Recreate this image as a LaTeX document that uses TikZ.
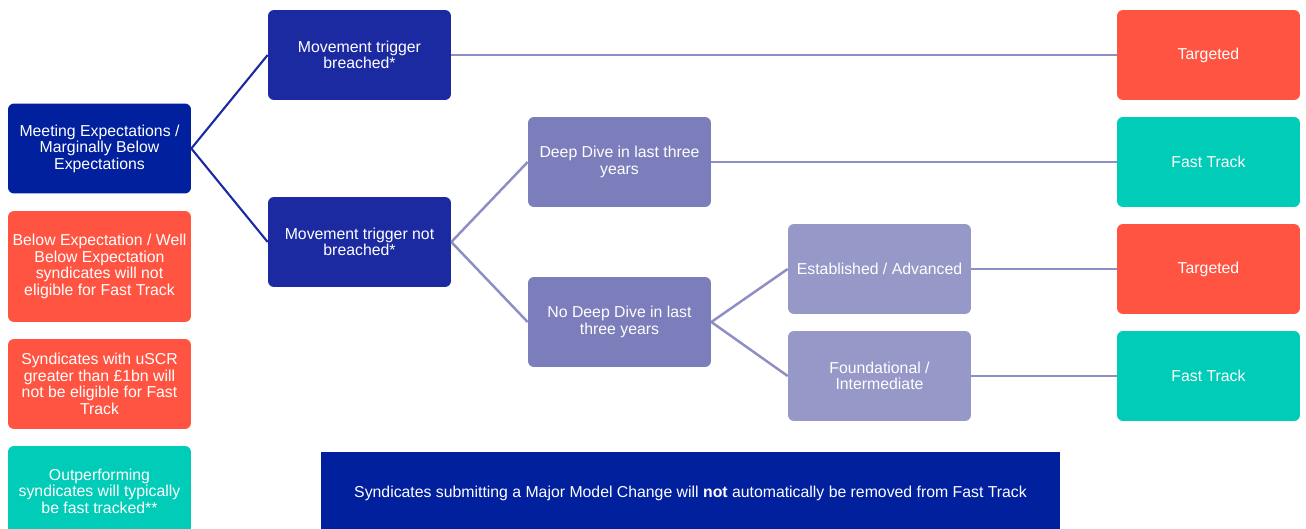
\documentclass[tikz,border=0pt]{standalone}
\usepackage{fontspec}
\setmainfont{Liberation Sans}
\definecolor{navyA}{RGB}{0,32,158}
\definecolor{navyB}{RGB}{27,42,161}
\definecolor{redbox}{RGB}{255,84,66}
\definecolor{tealbox}{RGB}{0,204,183}
\definecolor{lilacA}{RGB}{123,126,186}
\definecolor{lilacB}{RGB}{150,152,199}
\definecolor{lilacline}{RGB}{140,142,196}

\begin{document}
\begin{tikzpicture}[x=0.02cm, y=-0.02cm,
  every node/.style={rounded corners=0.12cm, text=white, align=center,
    minimum width=3.66cm, minimum height=1.8cm, inner sep=2pt,
    font=\fontsize{9}{9.4}\selectfont},
  navyAbox/.style={fill=navyA},
  navyBbox/.style={fill=navyB},
  redbox/.style={fill=redbox},
  tealbox/.style={fill=tealbox},
  lilacAbox/.style={fill=lilacA},
  lilacBbox/.style={fill=lilacB},
  navyline/.style={draw=navyB, line width=1.2pt},
  lilacedge/.style={draw=lilacline, line width=1.4pt}]

  \useasboundingbox (0,0) rectangle (1306,528);
  \clip (0,0) rectangle (1306,528);

  % left column
  \node[navyAbox] (meet) at (99.5,148.5) {Meeting Expectations /\\ Marginally Below\\ Expectations};
  \node[redbox, minimum height=2.22cm] (below) at (99.5,266.5) {Below Expectation / Well\\ Below Expectation\\ syndicates will not\\ eligible for Fast Track};
  \node[redbox] (uscr) at (99.5,384) {Syndicates with uSCR\\ greater than £1bn will\\ not be eligible for Fast\\ Track};
  \node[tealbox] (outp) at (99.5,491) {Outperforming\\ syndicates will typically\\ be fast tracked**};

  % decision tree
  \node[navyBbox] (mbr) at (359.5,55) {Movement trigger\\ breached*};
  \node[navyBbox] (mnb) at (359.5,242) {Movement trigger not\\ breached*};
  \node[lilacAbox] (dd) at (619.5,162) {Deep Dive in last three\\ years};
  \node[lilacAbox] (ndd) at (619.5,322) {No Deep Dive in last\\ three years};
  \node[lilacBbox] (est) at (879.5,269) {Established / Advanced};
  \node[lilacBbox] (fnd) at (879.5,376) {Foundational /\\ Intermediate};

  % outcomes
  \node[redbox] (tg1) at (1208.5,55) {Targeted};
  \node[tealbox] (ft1) at (1208.5,162) {Fast Track};
  \node[redbox] (tg2) at (1208.5,269) {Targeted};
  \node[tealbox] (ft2) at (1208.5,376) {Fast Track};

  \node[navyAbox, rounded corners=0, minimum width=14.78cm, minimum height=1.64cm] (mmc) at (690.5,493) {Syndicates submitting a Major Model Change will \textbf{not} automatically be removed from Fast Track};

  \path (meet.east) edge[navyline] (mbr.west);
  \path (meet.east) edge[navyline] (mnb.west);

  \path (mbr.east) edge[lilacedge] (tg1.west);
  \path (mnb.east) edge[lilacedge] (dd.west);
  \path (mnb.east) edge[lilacedge] (ndd.west);
  \path (dd.east) edge[lilacedge] (ft1.west);
  \path (ndd.east) edge[lilacedge] (est.west);
  \path (ndd.east) edge[lilacedge] (fnd.west);
  \path (est.east) edge[lilacedge] (tg2.west);
  \path (fnd.east) edge[lilacedge] (ft2.west);

\end{tikzpicture}
\end{document}
